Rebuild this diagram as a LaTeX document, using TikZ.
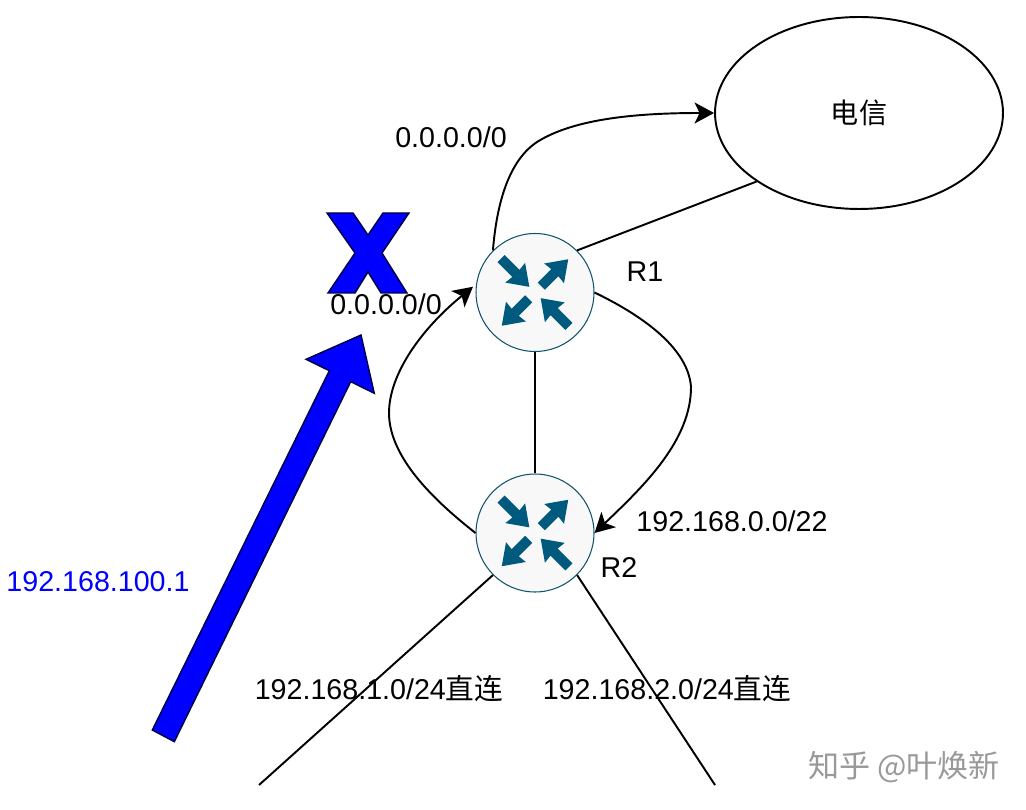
\documentclass[tikz,border=0pt]{standalone}
\usepackage{fontspec}
\setmainfont{Liberation Sans}
\newfontfamily\cjk{Noto Sans CJK SC}
\usetikzlibrary{shapes.geometric,arrows.meta}
\definecolor{routerline}{RGB}{16,83,109}
\definecolor{routerfill}{RGB}{248,248,248}
\definecolor{routericon}{RGB}{0,90,125}
\definecolor{markblue}{RGB}{0,0,255}
\begin{document}
\begin{tikzpicture}[
        x=0.02cm, y=-0.02cm,
        router/.style={circle, draw=routerline, fill=routerfill, line width=0.6pt, inner sep=0pt, minimum size=2.36cm},
        cloud/.style={ellipse, draw, line width=1.1pt, inner sep=0pt, minimum width=5.76cm, minimum height=3.84cm, font=\fontsize{16}{18}\selectfont\cjk},
        label/.style={inner sep=0pt, font=\fontsize{16.3}{18}\selectfont},
        link/.style={line width=1.1pt},
        route/.style={line width=1.1pt, -{Stealth[length=3.9mm,width=4.2mm,inset=1mm]}},
        bigmark/.style={draw=black!75!blue, fill=markblue, line width=0.8pt, line join=miter},
        routerin/.pic={\fill[routericon] (8,0) -- (28,14) -- (27,5) -- (48,5) -- (48,-5) -- (27,-5) -- (28,-14) -- cycle;},
        routerout/.pic={\fill[routericon] (47,0) -- (27,14) -- (28,5) -- (9,5) -- (9,-5) -- (28,-5) -- (27,-14) -- cycle;},
        routericons/.pic={
          \pic[rotate=135] {routerin};
          \pic[rotate=-45] {routerin};
          \pic[rotate=45] {routerout};
          \pic[rotate=225] {routerout};
        },
      ]
      \useasboundingbox (0,0) rectangle (1026,810);

      %Nodes
      \node[cloud]  (telecom) at (859,113)  {电信};
      \node[router] (R1)      at (535,292.5) {};
      \node[router] (R2)      at (535,533)  {};
      \pic at (R1) {routericons};
      \pic at (R2) {routericons};

      \coordinate (lan1) at (259,785);
      \coordinate (lan2) at (715,785);

      %Big marks
      \draw[bigmark] (327,213) -- (353,213) -- (368,235) -- (383,213) -- (409,213) -- (382,253) -- (407,293)
        -- (381,293) -- (368,272) -- (355,293) -- (328,293) -- (355,253) -- cycle;
      \draw[bigmark] (361,335) -- (374.3,393.3) -- (350.7,381.7) -- (174.3,741.7) -- (152.3,730) -- (329.3,370.7) -- (306,359.3) -- cycle;

      %Labels
      \node[label] (r1name)  at (645,272) {R1};
      \node[label] (r2name)  at (619,567) {R2};
      \node[label] (default1) at (451,137.5) {0.0.0.0/0};
      \node[label] (default2) at (386,304.5) {0.0.0.0/0};
      \node[label] (summary) at (732,521) {192.168.0.0/22};
      \node[label] (direct1) at (379,689) {192.168.1.0/24{\cjk 直连}};
      \node[label] (direct2) at (667,689) {192.168.2.0/24{\cjk 直连}};
      \node[label, text=markblue] (source) at (98,582) {192.168.100.1};
      \node[inner sep=0pt, text=black!40, font=\fontsize{17.7}{19}\selectfont\cjk] (mark) at (904,767) {知乎 @叶焕新};

      %Lines
      \draw[link] (R1.north east) -- (telecom.south west);
      \draw[link] (R1) -- (R2);
      \draw[link] (R2.south west) -- (lan1);
      \draw[link] (R2.south east) -- (lan2);

      \draw[route] (R1.north west) .. controls (497,200) and (510,160) .. (537,142) .. controls (575,118) and (640,113) .. (telecom.west);
      \draw[route, shorten >=0.8mm] (R2.west) .. controls (440,505) and (389,460) .. (389,413) .. controls (389,375) and (420,330) .. (R1.172);
      \draw[route] (R1.east) .. controls (635,312) and (688,345) .. (691,387) .. controls (691,440) and (645,485) .. (R2.east);
    \end{tikzpicture}
\end{document}
